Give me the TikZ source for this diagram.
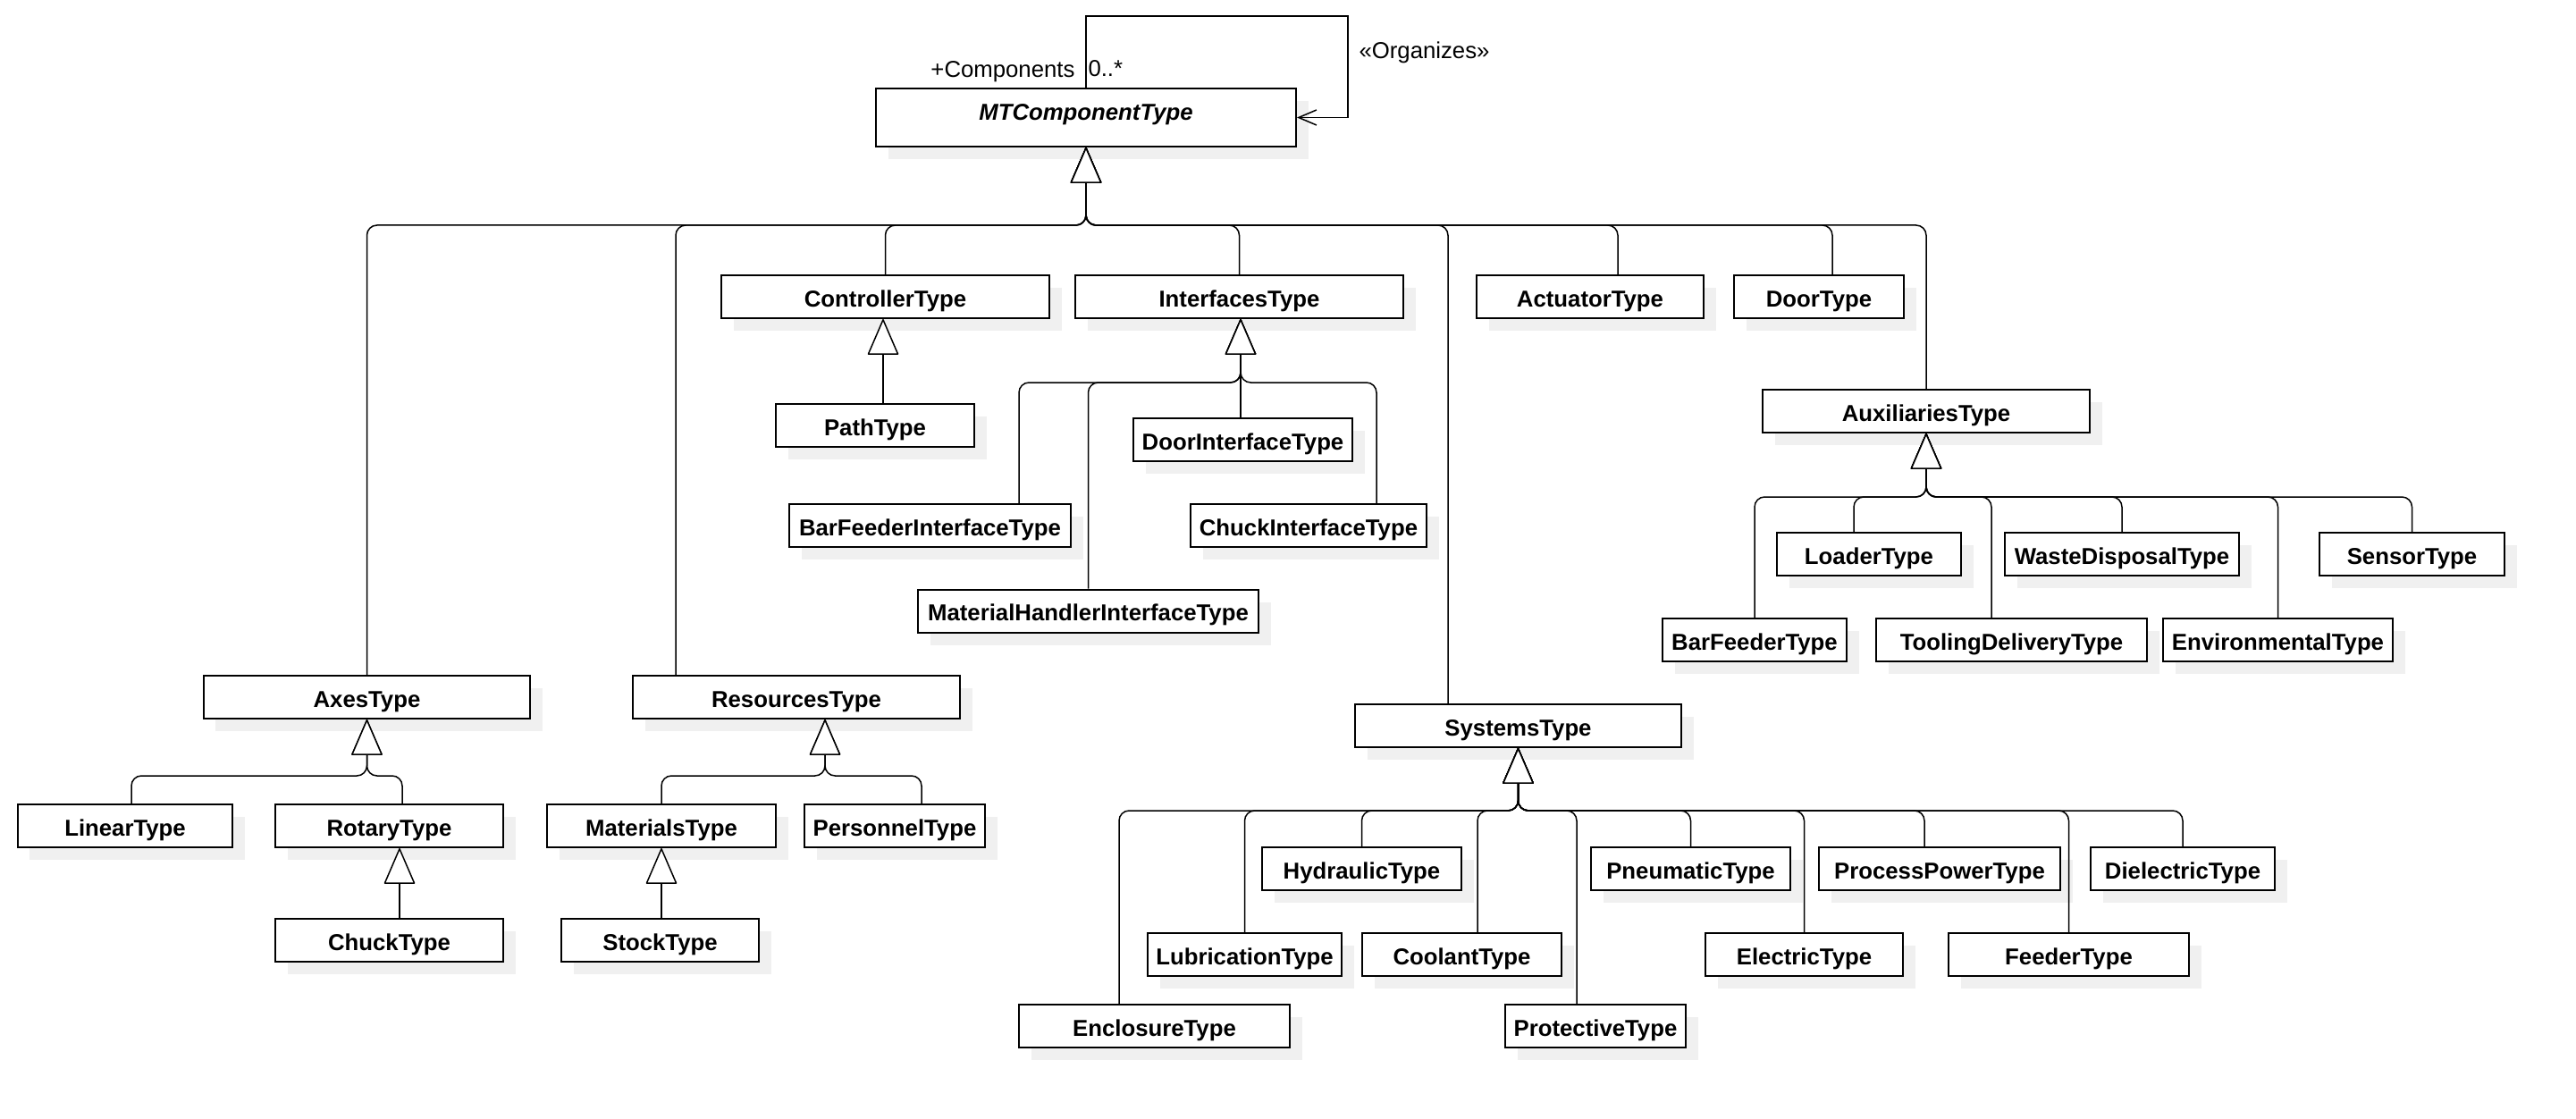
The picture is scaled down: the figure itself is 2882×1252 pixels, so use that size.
\documentclass[tikz,border=0pt]{standalone}
\usepackage{fontspec}
\setmainfont{Liberation Sans}
\usetikzlibrary{arrows.meta,shadows}

\tikzset{
  cls/.style={draw,line width=0.8pt,fill=white,font=\fontsize{10.3}{12}\selectfont\bfseries,
    minimum height=19.2pt,inner sep=0pt,text height=8.9pt,text depth=0pt,
    drop shadow={shadow xshift=5.4pt,shadow yshift=-5.6pt,fill=black!6,opacity=1}},
  lbl/.style={font=\fontsize{10.3}{12}\selectfont,inner sep=0pt},
  gen/.style={line width=0.6pt,rounded corners=4.5pt,
    -{Triangle[length=16.4pt,width=14pt,fill=white,round]}},
  assoc/.style={line width=0.6pt,-{Straight Barb[length=8pt,width=6.8pt]}}
}

\begin{document}
\begin{tikzpicture}[x=0.4pt,y=-0.4pt]
\useasboundingbox (0,0) rectangle (2882,1252);

% root
\node[cls,minimum width=188pt,minimum height=26pt,text height=5pt,text depth=2.4pt,
  font=\fontsize{10.3}{12}\selectfont\bfseries\itshape] (mt) at (1215,131.5) {MTComponentType};

% first level
\node[cls,minimum width=146.8pt] (controller) at (990.5,332) {ControllerType};
\node[cls,minimum width=146.8pt] (interfaces) at (1386.5,332) {InterfacesType};
\node[cls,minimum width=101.6pt] (actuator) at (1779,332) {ActuatorType};
\node[cls,minimum width=76pt] (door) at (2035,332) {DoorType};
\node[cls,minimum width=146.4pt] (aux) at (2155,460) {AuxiliariesType};
\node[cls,minimum width=146pt] (axes) at (410.5,780) {AxesType};
\node[cls,minimum width=146.4pt] (resources) at (891,780) {ResourcesType};
\node[cls,minimum width=146pt] (systems) at (1698.5,812) {SystemsType};

% controller and interfaces
\node[cls,minimum width=88.8pt] (pathT) at (979,476) {PathType};
\node[cls,minimum width=98pt] (dint) at (1390.5,492) {DoorInterfaceType};
\node[cls,minimum width=126pt] (bfi) at (1040.5,588) {BarFeederInterfaceType};
\node[cls,minimum width=105.6pt] (cint) at (1464,588) {ChuckInterfaceType};
\node[cls,minimum width=152.4pt] (mhi) at (1217.5,683.5) {MaterialHandlerInterfaceType};

% auxiliaries
\node[cls,minimum width=82.4pt] (loader) at (2091,620) {LoaderType};
\node[cls,minimum width=104.8pt] (waste) at (2374,620) {WasteDisposalType};
\node[cls,minimum width=82.8pt] (sensor) at (2698.5,620) {SensorType};
\node[cls,minimum width=82.4pt] (barfeeder) at (1963,716) {BarFeederType};
\node[cls,minimum width=121.2pt] (tooling) at (2250.5,716) {ToolingDeliveryType};
\node[cls,minimum width=102.8pt] (environ) at (2548.5,716) {EnvironmentalType};

% axes and resources
\node[cls,minimum width=96pt] (linear) at (140,924) {LinearType};
\node[cls,minimum width=102pt] (rotary) at (435.5,924) {RotaryType};
\node[cls,minimum width=102pt] (chuck) at (435.5,1052) {ChuckType};
\node[cls,minimum width=102.4pt] (materials) at (740,924) {MaterialsType};
\node[cls,minimum width=80.8pt] (personnel) at (1001,924) {PersonnelType};
\node[cls,minimum width=88.4pt] (stock) at (738.5,1052) {StockType};

% systems
\node[cls,minimum width=89.2pt] (hydraulic) at (1523.5,972) {HydraulicType};
\node[cls,minimum width=89.2pt] (pneumatic) at (1891.5,972) {PneumaticType};
\node[cls,minimum width=108pt] (procpower) at (2170,972) {ProcessPowerType};
\node[cls,minimum width=82.4pt] (dielectric) at (2442,972) {DielectricType};
\node[cls,minimum width=86.8pt] (lubrication) at (1392.5,1068) {LubricationType};
\node[cls,minimum width=89.2pt] (coolant) at (1635.5,1068) {CoolantType};
\node[cls,minimum width=88.4pt] (electric) at (2018.5,1068) {ElectricType};
\node[cls,minimum width=107.6pt] (feeder) at (2314.5,1068) {FeederType};
\node[cls,minimum width=121.2pt] (enclosure) at (1291.5,1148) {EnclosureType};
\node[cls,minimum width=80.8pt] (protective) at (1785,1148) {ProtectiveType};

% self association
\draw[assoc] (mt.north) -- ++(0,-80) -- ++(293,0) |- (mt.east);
\node[lbl,anchor=base east] (comp) at (1203,87) {+Components};
\node[lbl,anchor=base west] (mult) at (1217,86) {0..*};
\node[lbl,anchor=base west] (org) at (1520,66) {«Organizes»};

% bus points
\coordinate (ctrlS) at ([xshift=-1pt]controller.south);
\coordinate (ifS) at ([xshift=0.6pt]interfaces.south);
\coordinate (mtbus) at (1215,252);
\coordinate (ifbus) at (ifS |- 0,428);
\coordinate (auxbus) at (2155,556);
\coordinate (axbus) at (410.5,868);
\coordinate (rsbus) at (923,868);
\coordinate (sybus) at (1698.5,907);

% generalizations to MTComponentType
\draw[gen] (axes.north) |- (mtbus) -- (mt.south);
\draw[gen] ([xshift=-54pt]resources.north) |- (mtbus) -- (mt.south);
\draw[gen] (controller.north) |- (mtbus) -- (mt.south);
\draw[gen] (interfaces.north) |- (mtbus) -- (mt.south);
\draw[gen] ([xshift=-31.4pt]systems.north) |- (mtbus) -- (mt.south);
\draw[gen] ([xshift=12.4pt]actuator.north) |- (mtbus) -- (mt.south);
\draw[gen] ([xshift=6pt]door.north) |- (mtbus) -- (mt.south);
\draw[gen] (aux.north) |- (mtbus) -- (mt.south);

% controller, interfaces
\draw[gen] (pathT.north -| ctrlS) -- (ctrlS);
\draw[gen] ([xshift=39.8pt]bfi.north) |- (ifbus) -- (ifS);
\draw[gen] (mhi.north) |- (ifbus) -- (ifS);
\draw[gen] (dint.north -| ifS) -- (ifS);
\draw[gen] ([xshift=30.4pt]cint.north) |- (ifbus) -- (ifS);

% auxiliaries
\draw[gen] (barfeeder.north) |- (auxbus) -- (aux.south);
\draw[gen] ([xshift=-6.8pt]loader.north) |- (auxbus) -- (aux.south);
\draw[gen] ([xshift=-9pt]tooling.north) |- (auxbus) -- (aux.south);
\draw[gen] (waste.north) |- (auxbus) -- (aux.south);
\draw[gen] (environ.north) |- (auxbus) -- (aux.south);
\draw[gen] (sensor.north) |- (auxbus) -- (aux.south);

% axes, resources
\draw[gen] ([xshift=2.8pt]linear.north) |- (axbus) -- (axes.south);
\draw[gen] ([xshift=5.8pt]rotary.north) |- (axbus) -- (axes.south);
\draw[gen] ([xshift=4.6pt]chuck.north) -- ([xshift=4.6pt]rotary.south);
\draw[gen] (materials.north) |- (rsbus) -- ([xshift=12.8pt]resources.south);
\draw[gen] ([xshift=12pt]personnel.north) |- (rsbus) -- ([xshift=12.8pt]resources.south);
\draw[gen] (stock.north -| materials.south) -- (materials.south);

% systems
\draw[gen] ([xshift=-15.8pt]enclosure.north) |- (sybus) -- (systems.south);
\draw[gen] (lubrication.north) |- (sybus) -- (systems.south);
\draw[gen] (hydraulic.north) |- (sybus) -- (systems.south);
\draw[gen] ([xshift=7pt]coolant.north) |- (sybus) -- (systems.south);
\draw[gen] ([xshift=-8.4pt]protective.north) |- (sybus) -- (systems.south);
\draw[gen] (pneumatic.north) |- (sybus) -- (systems.south);
\draw[gen] (electric.north) |- (sybus) -- (systems.south);
\draw[gen] ([xshift=-6.8pt]procpower.north) |- (sybus) -- (systems.south);
\draw[gen] (feeder.north) |- (sybus) -- (systems.south);
\draw[gen] (dielectric.north) |- (sybus) -- (systems.south);

\end{tikzpicture}
\end{document}
